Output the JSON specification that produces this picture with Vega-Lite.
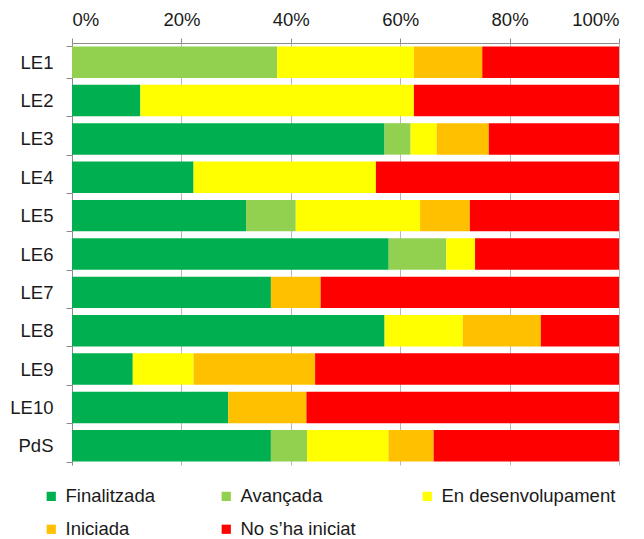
{
  "$schema": "https://vega.github.io/schema/vega-lite/v6.json",
  "autosize": {"type": "none"},
  "padding": {"left": 72, "top": 43, "right": 25, "bottom": 74},
  "width": 547,
  "height": 422,
  "background": "white",
  "config": {
    "font": "Liberation Sans",
    "view": {"stroke": null}
  },
  "data": {
    "values": [
      {"linia": "LE1", "estat": "Avançada", "ord": 2, "n": 3},
      {"linia": "LE1", "estat": "En desenvolupament", "ord": 3, "n": 2},
      {"linia": "LE1", "estat": "Iniciada", "ord": 4, "n": 1},
      {"linia": "LE1", "estat": "No s’ha iniciat", "ord": 5, "n": 2},
      {"linia": "LE2", "estat": "Finalitzada", "ord": 1, "n": 1},
      {"linia": "LE2", "estat": "En desenvolupament", "ord": 3, "n": 4},
      {"linia": "LE2", "estat": "No s’ha iniciat", "ord": 5, "n": 3},
      {"linia": "LE3", "estat": "Finalitzada", "ord": 1, "n": 12},
      {"linia": "LE3", "estat": "Avançada", "ord": 2, "n": 1},
      {"linia": "LE3", "estat": "En desenvolupament", "ord": 3, "n": 1},
      {"linia": "LE3", "estat": "Iniciada", "ord": 4, "n": 2},
      {"linia": "LE3", "estat": "No s’ha iniciat", "ord": 5, "n": 5},
      {"linia": "LE4", "estat": "Finalitzada", "ord": 1, "n": 2},
      {"linia": "LE4", "estat": "En desenvolupament", "ord": 3, "n": 3},
      {"linia": "LE4", "estat": "No s’ha iniciat", "ord": 5, "n": 4},
      {"linia": "LE5", "estat": "Finalitzada", "ord": 1, "n": 7},
      {"linia": "LE5", "estat": "Avançada", "ord": 2, "n": 2},
      {"linia": "LE5", "estat": "En desenvolupament", "ord": 3, "n": 5},
      {"linia": "LE5", "estat": "Iniciada", "ord": 4, "n": 2},
      {"linia": "LE5", "estat": "No s’ha iniciat", "ord": 5, "n": 6},
      {"linia": "LE6", "estat": "Finalitzada", "ord": 1, "n": 11},
      {"linia": "LE6", "estat": "Avançada", "ord": 2, "n": 2},
      {"linia": "LE6", "estat": "En desenvolupament", "ord": 3, "n": 1},
      {"linia": "LE6", "estat": "No s’ha iniciat", "ord": 5, "n": 5},
      {"linia": "LE7", "estat": "Finalitzada", "ord": 1, "n": 4},
      {"linia": "LE7", "estat": "Iniciada", "ord": 4, "n": 1},
      {"linia": "LE7", "estat": "No s’ha iniciat", "ord": 5, "n": 6},
      {"linia": "LE8", "estat": "Finalitzada", "ord": 1, "n": 4},
      {"linia": "LE8", "estat": "En desenvolupament", "ord": 3, "n": 1},
      {"linia": "LE8", "estat": "Iniciada", "ord": 4, "n": 1},
      {"linia": "LE8", "estat": "No s’ha iniciat", "ord": 5, "n": 1},
      {"linia": "LE9", "estat": "Finalitzada", "ord": 1, "n": 1},
      {"linia": "LE9", "estat": "En desenvolupament", "ord": 3, "n": 1},
      {"linia": "LE9", "estat": "Iniciada", "ord": 4, "n": 2},
      {"linia": "LE9", "estat": "No s’ha iniciat", "ord": 5, "n": 5},
      {"linia": "LE10", "estat": "Finalitzada", "ord": 1, "n": 2},
      {"linia": "LE10", "estat": "Iniciada", "ord": 4, "n": 1},
      {"linia": "LE10", "estat": "No s’ha iniciat", "ord": 5, "n": 4},
      {"linia": "PdS", "estat": "Finalitzada", "ord": 1, "n": 44},
      {"linia": "PdS", "estat": "Avançada", "ord": 2, "n": 8},
      {"linia": "PdS", "estat": "En desenvolupament", "ord": 3, "n": 18},
      {"linia": "PdS", "estat": "Iniciada", "ord": 4, "n": 10},
      {"linia": "PdS", "estat": "No s’ha iniciat", "ord": 5, "n": 41}
    ]
  },
  "mark": {"type": "bar", "stroke": null},
  "encoding": {
    "y": {
      "field": "linia",
      "type": "nominal",
      "sort": ["LE1", "LE2", "LE3", "LE4", "LE5", "LE6", "LE7", "LE8", "LE9", "LE10", "PdS"],
      "scale": {"paddingInner": 0.18, "paddingOuter": 0.09},
      "axis": {
        "title": null,
        "tickBand": "extent",
        "labelFontSize": 18.5,
        "labelColor": "#1a1a1a",
        "labelPadding": 13,
        "tickSize": 6,
        "tickColor": "#8c8c8c",
        "domainColor": "#8c8c8c",
        "grid": false
      }
    },
    "x": {
      "field": "n",
      "type": "quantitative",
      "stack": "normalize",
      "scale": {"domain": [0, 1], "nice": false},
      "axis": {
        "orient": "top",
        "title": null,
        "format": ".0%",
        "values": [0, 0.2, 0.4, 0.6, 0.8, 1],
        "labelFontSize": 18.5,
        "labelColor": "#1a1a1a",
        "labelPadding": 9,
        "tickSize": 5,
        "tickColor": "#8c8c8c",
        "domainColor": "#8c8c8c",
        "grid": true,
        "gridColor": "#b8b8b8",
        "gridWidth": 1
      }
    },
    "color": {
      "field": "estat",
      "type": "nominal",
      "scale": {
        "domain": ["Finalitzada", "Avançada", "En desenvolupament", "Iniciada", "No s’ha iniciat"],
        "range": ["#00B050", "#92D050", "#FFFF00", "#FFC000", "#FF0000"]
      },
      "legend": {
        "title": null,
        "orient": "none",
        "legendX": -30,
        "legendY": 444,
        "direction": "horizontal",
        "columns": 3,
        "columnPadding": 62,
        "rowPadding": 14,
        "symbolType": "square",
        "symbolSize": 85,
        "symbolStrokeWidth": 0,
        "labelFontSize": 18.5,
        "labelColor": "#1a1a1a",
        "labelOffset": 5,
        "labelLimit": 300
      }
    },
    "order": {"field": "ord", "type": "quantitative"}
  }
}
